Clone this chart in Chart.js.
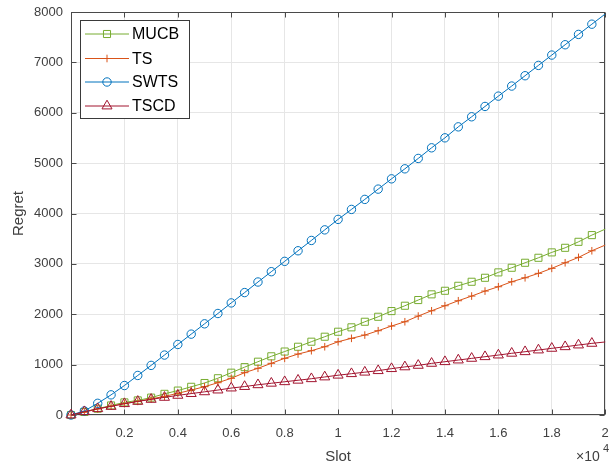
<!DOCTYPE html>
<html><head><meta charset="utf-8">
<script src="https://cdn.jsdelivr.net/npm/chart.js@4/dist/chart.umd.min.js"></script>
<style>html,body{margin:0;padding:0;background:#fff}#wrap{width:612px;height:468px;position:relative}</style>
</head><body><div id="wrap"><canvas id="c" width="612" height="468"></canvas></div>
<script>
const slots = [0,500,1000,1500,2000,2500,3000,3500,4000,4500,5000,5500,6000,6500,7000,7500,8000,8500,9000,9500,10000,10500,11000,11500,12000,12500,13000,13500,14000,14500,15000,15500,16000,16500,17000,17500,18000,18500,19000,19500,20000];
const mucb = [0,60,125,190,250,290,345,420,485,560,635,730,840,950,1058,1165,1260,1355,1455,1554,1653,1740,1851,1950,2063,2169,2282,2395,2466,2565,2645,2724,2831,2923,3022,3121,3228,3319,3438,3571,3690];
const ts = [0,55,120,175,225,270,320,370,430,495,562,641,728,840,927,1026,1125,1210,1276,1355,1454,1522,1587,1673,1766,1851,1964,2069,2169,2268,2361,2460,2546,2645,2724,2812,2911,3022,3129,3260,3373];
const swts = [0,80,232,400,585,785,985,1190,1400,1605,1810,2015,2225,2430,2640,2845,3050,3260,3465,3675,3883,4081,4280,4484,4688,4887,5093,5304,5502,5720,5920,6125,6330,6530,6735,6940,7145,7350,7555,7758,7960];
const tscd = [0,65,125,170,225,270,310,350,390,425,460,495,535,565,600,630,660,690,720,755,790,820,850,880,920,955,985,1025,1058,1091,1124,1157,1190,1225,1256,1290,1323,1355,1389,1422,1450];
const seriesNames = ['MUCB','TS','SWTS','TSCD'];
const xTickValues = [0,2000,4000,6000,8000,10000,12000,14000,16000,18000,20000];
const yTickValues = [0,1000,2000,3000,4000,5000,6000,7000,8000];

const AXIS = '#4a4a4a', TXT = '#404040', GRID = '#e6e6e6';
const FONT = '"Liberation Sans", Arial, sans-serif';
const markerless = slots[slots.length-1];
function pts(vals){ return slots.map((s,i)=>({x:s,y:vals[i]})); }
function radii(r){ return slots.map(s => s===markerless ? 0 : r); }

const styles = [
  {color:'#77AC30', style:'rect', r:5, order:4},
  {color:'#D95319', style:'cross', r:3.8, order:3},
  {color:'#0072BD', style:'circle', r:4.2, order:2},
  {color:'#A2142F', style:'triangle', r:5.8, order:1}
];
const allVals = [mucb, ts, swts, tscd];
const datasets = allVals.map((v,i)=>({
  label: seriesNames[i], data: pts(v),
  borderColor: styles[i].color, backgroundColor: 'rgba(0,0,0,0)',
  pointBorderColor: styles[i].color, pointBackgroundColor: 'rgba(0,0,0,0)',
  pointStyle: styles[i].style, pointRadius: radii(styles[i].r), pointBorderWidth: 1,
  borderWidth: 1, tension: 0, fill: false, order: styles[i].order, clip: 12
}));

function drawMarker(ctx, style, r, x, y, color){
  ctx.save(); ctx.strokeStyle = color; ctx.lineWidth = 1; ctx.beginPath();
  if (style==='rect'){ const s = r*Math.SQRT1_2; ctx.rect(x-s,y-s,2*s,2*s); }
  else if (style==='circle'){ ctx.arc(x,y,r,0,Math.PI*2); }
  else if (style==='cross'){ ctx.moveTo(x-r,y); ctx.lineTo(x+r,y); ctx.moveTo(x,y-r); ctx.lineTo(x,y+r); }
  else if (style==='triangle'){ ctx.moveTo(x, y-r); ctx.lineTo(x + r*Math.sin(Math.PI*2/3), y + r*0.5); ctx.lineTo(x - r*Math.sin(Math.PI*2/3), y + r*0.5); ctx.closePath(); }
  ctx.stroke(); ctx.restore();
}

const boxPlugin = {
  id: 'matlabBox',
  beforeDatasetsDraw(chart){
    const {ctx, chartArea:a, scales} = chart;
    ctx.save();
    ctx.strokeStyle = AXIS; ctx.lineWidth = 1;
    const L = Math.round(a.left)+0.5, R = Math.round(a.right)-0.5, T = Math.round(a.top)+0.5, B = Math.round(a.bottom)-0.5;
    ctx.strokeRect(L, T, R-L, B-T);
    ctx.beginPath();
    xTickValues.forEach(v=>{ const px = Math.round(scales.x.getPixelForValue(v))+0.5;
      ctx.moveTo(px,B); ctx.lineTo(px,B-5); ctx.moveTo(px,T); ctx.lineTo(px,T+5); });
    yTickValues.forEach(v=>{ const py = Math.round(scales.y.getPixelForValue(v))+0.5;
      ctx.moveTo(L,py); ctx.lineTo(L+5,py); ctx.moveTo(R,py); ctx.lineTo(R-5,py); });
    ctx.stroke();
    ctx.restore();
  },
  afterDraw(chart){
    const {ctx} = chart;
    ctx.save();
    ctx.fillStyle = TXT; ctx.textBaseline = 'alphabetic'; ctx.textAlign = 'left';
    ctx.font = '14px ' + FONT;
    ctx.fillText('\u00d710', 576, 461);
    ctx.font = '11px ' + FONT;
    ctx.fillText('4', 603, 452);
    const bx = 80.5, by = 20.5, bw = 109, bh = 98;
    ctx.fillStyle = '#ffffff'; ctx.fillRect(bx, by, bw, bh);
    ctx.strokeStyle = '#3a3a3a'; ctx.lineWidth = 1; ctx.strokeRect(bx, by, bw, bh);
    const rows = [34, 58.5, 82, 106];
    chart.data.datasets.forEach((ds,i)=>{
      const y = rows[i];
      ctx.strokeStyle = ds.borderColor; ctx.lineWidth = 1;
      ctx.beginPath(); ctx.moveTo(85, y); ctx.lineTo(129, y); ctx.stroke();
      drawMarker(ctx, styles[i].style, styles[i].r, 107, y, ds.borderColor);
      ctx.fillStyle = '#000'; ctx.textBaseline = 'middle'; ctx.textAlign = 'left';
      ctx.font = '16px ' + FONT;
      ctx.fillText(ds.label, 132, y+1);
    });
    ctx.restore();
  }
};

new Chart(document.getElementById('c'), {
  type: 'line',
  data: { datasets },
  options: {
    responsive: false, animation: false, devicePixelRatio: 1,
    layout: { padding: { top: 12, right: 1, left: 0, bottom: 0 } },
    plugins: { legend: { display: false }, tooltip: { enabled: false } },
    scales: {
      x: {
        type: 'linear', min: 0, max: 20000,
        afterBuildTicks: s => { s.ticks = xTickValues.map(v=>({value:v})); },
        afterFit: s => { s.height = 53; s.paddingLeft = 0; s.paddingRight = 0; },
        ticks: { autoSkip: false, maxRotation: 0, padding: 11, color: TXT,
          font: { family: FONT, size: 13 },
          callback: v => v === 0 ? '' : String(v/10000) },
        grid: { color: GRID, drawTicks: false },
        border: { display: false },
        title: { display: true, text: 'Slot', color: TXT, padding: { top: 2, bottom: 2 },
          font: { family: FONT, size: 15 } }
      },
      y: {
        min: 0, max: 8000,
        afterBuildTicks: s => { s.ticks = yTickValues.map(v=>({value:v})); },
        afterFit: s => { s.width = 71; s.paddingTop = 0; s.paddingBottom = 0; },
        ticks: { autoSkip: false, padding: 8, color: TXT,
          font: { family: FONT, size: 13 },
          callback: v => String(v) },
        grid: { color: GRID, drawTicks: false },
        border: { display: false },
        title: { display: true, text: 'Regret', color: TXT, padding: { top: 10, bottom: 0 },
          font: { family: FONT, size: 15 } }
      }
    }
  },
  plugins: [boxPlugin]
});
</script></body></html>
